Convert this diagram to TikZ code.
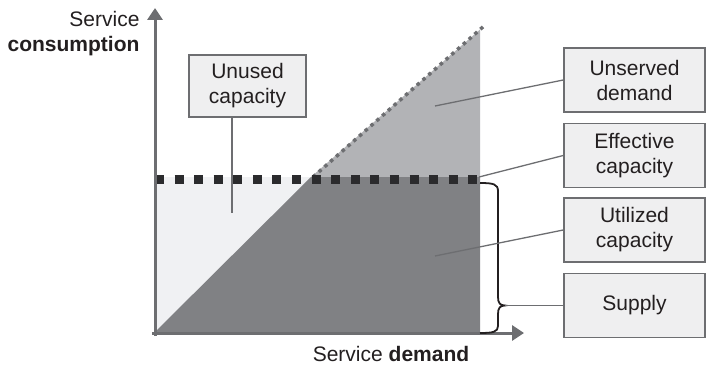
\documentclass[tikz,border=0pt]{standalone}
\usepackage{fontspec}
\setmainfont{Liberation Sans}
\usetikzlibrary{arrows.meta}

\definecolor{paneltint}{HTML}{F0F1F3}
\definecolor{unservedgray}{HTML}{B2B3B6}
\definecolor{usedgray}{HTML}{808184}
\definecolor{axisgray}{HTML}{6D6E71}
\definecolor{boxfill}{HTML}{EFEFF0}
\definecolor{capdash}{HTML}{2B2B2D}
\definecolor{inktext}{HTML}{231F20}

\begin{document}
\begin{tikzpicture}[x=1pt,y=-1pt,
  every node/.style={font=\fontsize{21}{25}\selectfont, text=inktext},
  label box/.style={draw=axisgray, line width=1.5pt, fill=boxfill, inner sep=0pt,
    align=center, minimum width=141pt, minimum height=64pt},
  leader/.style={draw=axisgray, line width=1.3pt},
  axis/.style={draw=axisgray, line width=3pt, -{Triangle[length=12pt,width=15pt]}},
  brace line/.style={draw=inktext, line width=1.8pt},
  ]
\useasboundingbox (0,0) rectangle (707,366);

% shaded areas under the capacity level and the demand diagonal
\fill[paneltint] (154,177) rectangle (480,333);
\fill[usedgray] (154,333) -- (311,177) -- (480,177) -- (480,333) -- cycle;
\fill[unservedgray] (311,177) -- (480,29.5) -- (480,177) -- cycle;

% demand diagonal above capacity, and the capacity level
\draw[axisgray, line width=3.5pt, dash pattern=on 3.5pt off 4.2pt] (313,177) -- (484,26);
\draw[capdash, line width=9pt, dash pattern=on 9pt off 10.58pt] (155,179.5) -- (478,179.5);

% axes
\draw[axis] (155,336) -- (155,8);
\draw[axis] (152,333) -- (524,333);

% axis titles
\node[anchor=base east] (ytitleA) at (143,27) {Service};
\node[anchor=base east] (ytitleB) at (143,52) {\bfseries consumption};
\node[anchor=base, inner sep=1pt] (xtitle) at (391,361.5) {Service \textbf{demand}};

% annotation boxes
\node[label box, minimum width=117pt, minimum height=62pt] (unused) at (247.5,86) {Unused\\capacity};
\node[label box] (unserved) at (634.5,80) {Unserved\\demand};
\node[label box] (effective) at (634.5,155.5) {Effective\\capacity};
\node[label box] (utilized) at (634.5,230) {Utilized\\capacity};
\node[label box] (supply) at (634.5,305.5) {Supply};

% leader ends
\coordinate (unusedEnd) at (232,213);
\coordinate (unservedEnd) at (435,106);
\coordinate (effectiveEnd) at (479,177);
\coordinate (utilizedEnd) at (435,256);
\coordinate (braceTip) at (505,305.5);

% brace spanning the supplied range
\draw[brace line] (480,183) .. controls (493,183) and (498,184) .. (498,191)
  -- (498,297) .. controls (498,303) and (500,305.5) .. (braceTip)
  .. controls (500,305.5) and (498,308) .. (498,314)
  -- (498,326) .. controls (498,332) and (493,333) .. (480,333);

% leaders
\draw[leader] (unused.south -| unusedEnd) -- (unusedEnd);
\draw[leader] (unserved.west) -- (unservedEnd);
\draw[leader] (effective.west) -- (effectiveEnd);
\draw[leader] (utilized.west) -- (utilizedEnd);
\draw[leader] (supply.west) -- (braceTip);
\end{tikzpicture}
\end{document}
